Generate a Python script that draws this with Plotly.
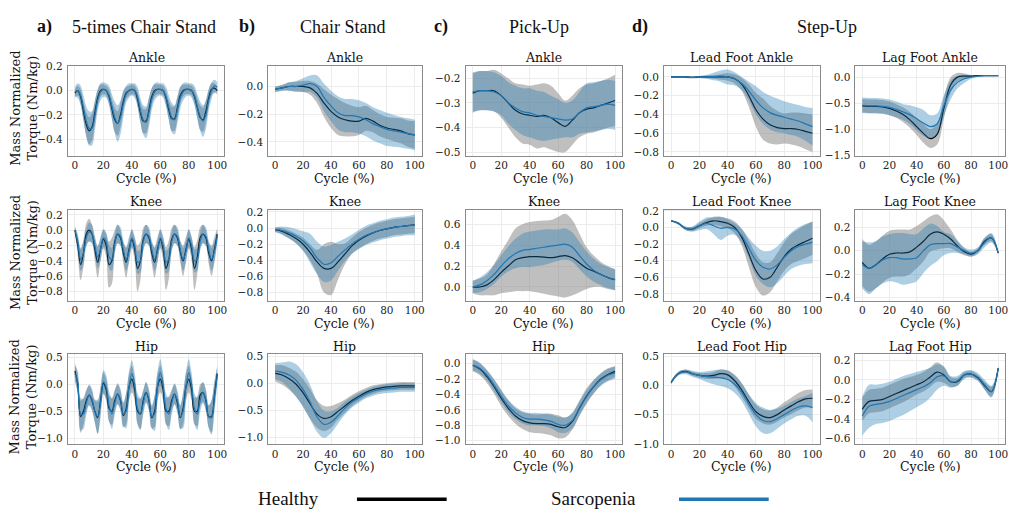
import plotly.graph_objects as go

W, H = 1017, 516

X2 = list(range(0, 101, 2))
X5 = list(range(0, 101, 5))
X_TICKS = [0, 20, 40, 60, 80, 100]

# ---------------- a) 5-times Chair Stand ----------------
a_ankle_h_mean = [-0.02,0.0,-0.05,-0.17,-0.28,-0.33,-0.30,-0.18,-0.06,0.0, 0.01,0.0,-0.05,-0.15,-0.24,-0.27,-0.20,-0.09,-0.02,0.0,
                  0.01,0.0,-0.07,-0.18,-0.25,-0.25,-0.16,-0.05,0.0,0.01, 0.01,0.0,-0.06,-0.16,-0.23,-0.23,-0.14,-0.04,0.0,0.01,
                  0.01,0.0,-0.05,-0.14,-0.22,-0.24,-0.17,-0.06,0.01,0.02, 0.0]
a_ankle_h_sd = [0.03,0.04,0.06,0.08,0.1,0.11,0.11,0.1,0.07,0.05, 0.04,0.04,0.06,0.08,0.1,0.1,0.1,0.08,0.05,0.04,
                0.04,0.04,0.06,0.08,0.1,0.1,0.1,0.07,0.05,0.04, 0.04,0.04,0.06,0.08,0.1,0.1,0.09,0.07,0.05,0.04,
                0.04,0.04,0.06,0.08,0.1,0.1,0.09,0.07,0.05,0.04, 0.03]
a_ankle_s_mean = [-0.01,0.0,-0.04,-0.14,-0.25,-0.31,-0.31,-0.21,-0.08,-0.01, 0.01,0.0,-0.04,-0.13,-0.22,-0.27,-0.22,-0.11,-0.03,0.0,
                  0.01,0.0,-0.05,-0.16,-0.24,-0.26,-0.18,-0.07,-0.01,0.01, 0.01,0.0,-0.05,-0.14,-0.22,-0.24,-0.16,-0.06,-0.01,0.01,
                  0.01,0.0,-0.04,-0.13,-0.21,-0.25,-0.20,-0.08,0.0,0.04, 0.03]
a_ankle_s_sd = [0.04,0.06,0.08,0.1,0.12,0.14,0.14,0.12,0.09,0.07, 0.06,0.06,0.08,0.1,0.13,0.15,0.14,0.11,0.07,0.06,
                0.05,0.06,0.08,0.1,0.12,0.13,0.12,0.09,0.07,0.06, 0.05,0.06,0.08,0.1,0.12,0.12,0.11,0.09,0.07,0.06,
                0.05,0.06,0.08,0.1,0.12,0.13,0.12,0.09,0.07,0.05, 0.04]

a_knee_h_mean = [0.0,-0.2,-0.45,-0.3,-0.05,0.0,-0.05,-0.25,-0.42,-0.25, -0.12,-0.2,-0.45,-0.4,-0.15,-0.05,-0.1,-0.3,-0.42,-0.25,
                 -0.12,-0.25,-0.5,-0.4,-0.12,-0.05,-0.1,-0.3,-0.42,-0.25, -0.12,-0.25,-0.5,-0.38,-0.12,-0.05,-0.1,-0.28,-0.4,-0.25,
                 -0.12,-0.25,-0.5,-0.35,-0.1,-0.05,-0.1,-0.3,-0.4,-0.25, -0.05]
a_knee_h_sd = [0.05,0.12,0.2,0.18,0.14,0.15,0.12,0.15,0.2,0.16, 0.12,0.15,0.3,0.3,0.15,0.12,0.1,0.14,0.2,0.16,
               0.12,0.15,0.3,0.25,0.15,0.12,0.1,0.14,0.2,0.16, 0.12,0.15,0.28,0.25,0.15,0.12,0.1,0.14,0.2,0.16,
               0.12,0.15,0.28,0.22,0.14,0.12,0.1,0.14,0.2,0.16, 0.08]
a_knee_s_mean = [0.0,-0.15,-0.38,-0.3,-0.1,-0.02,-0.05,-0.2,-0.35,-0.25, -0.1,-0.15,-0.35,-0.38,-0.18,-0.05,-0.08,-0.25,-0.38,-0.28,
                 -0.1,-0.2,-0.42,-0.4,-0.15,-0.05,-0.08,-0.25,-0.38,-0.28, -0.1,-0.2,-0.42,-0.38,-0.15,-0.05,-0.08,-0.25,-0.38,-0.28,
                 -0.1,-0.2,-0.4,-0.38,-0.15,-0.05,-0.08,-0.25,-0.38,-0.28, -0.08]
a_knee_s_sd = [0.05,0.1,0.15,0.15,0.12,0.12,0.12,0.12,0.15,0.14, 0.12,0.12,0.15,0.15,0.12,0.12,0.12,0.12,0.15,0.14,
               0.12,0.12,0.15,0.15,0.12,0.12,0.12,0.12,0.15,0.14, 0.12,0.12,0.15,0.15,0.12,0.12,0.12,0.12,0.15,0.14,
               0.12,0.12,0.15,0.15,0.12,0.12,0.12,0.12,0.15,0.14, 0.08]

a_hip_h_mean = [0.25,0.0,-0.6,-0.5,-0.3,-0.2,-0.3,-0.5,-0.62,-0.3, 0.02,-0.1,-0.45,-0.5,-0.3,-0.18,-0.3,-0.58,-0.45,-0.05,
                0.1,-0.1,-0.5,-0.55,-0.3,-0.15,-0.3,-0.62,-0.5,-0.05, 0.1,-0.1,-0.5,-0.5,-0.3,-0.18,-0.35,-0.62,-0.45,-0.05,
                0.1,-0.1,-0.5,-0.5,-0.2,-0.15,-0.3,-0.6,-0.6,-0.2, 0.2]
a_hip_h_sd = [0.15,0.2,0.3,0.25,0.2,0.18,0.18,0.2,0.3,0.25, 0.2,0.2,0.25,0.25,0.2,0.18,0.18,0.22,0.3,0.25,
              0.25,0.2,0.25,0.28,0.2,0.18,0.18,0.2,0.3,0.25, 0.25,0.2,0.25,0.28,0.2,0.18,0.18,0.22,0.3,0.25,
              0.25,0.2,0.25,0.28,0.2,0.18,0.18,0.2,0.3,0.25, 0.15]
a_hip_s_mean = [0.2,0.05,-0.55,-0.55,-0.35,-0.2,-0.28,-0.5,-0.6,-0.35, 0.05,-0.05,-0.4,-0.55,-0.35,-0.18,-0.28,-0.55,-0.5,-0.05,
                0.2,0.0,-0.45,-0.55,-0.35,-0.15,-0.28,-0.6,-0.55,-0.05, 0.22,0.0,-0.45,-0.55,-0.35,-0.18,-0.3,-0.6,-0.5,-0.05,
                0.22,0.0,-0.45,-0.55,-0.3,-0.15,-0.28,-0.6,-0.62,-0.25, 0.15]
a_hip_s_sd = [0.15,0.2,0.3,0.28,0.22,0.2,0.2,0.22,0.32,0.28, 0.22,0.22,0.28,0.28,0.22,0.2,0.2,0.22,0.32,0.28,
              0.25,0.22,0.28,0.3,0.22,0.2,0.2,0.22,0.32,0.28, 0.25,0.22,0.28,0.3,0.22,0.2,0.2,0.22,0.32,0.28,
              0.25,0.22,0.28,0.3,0.22,0.2,0.2,0.22,0.32,0.28, 0.15]

# ---------------- b) Chair Stand ----------------
b_ankle_h_mean = [-0.02,-0.01,0.0,0.0,0.0,-0.01,-0.05,-0.12,-0.18,-0.22,-0.24,-0.25,-0.25,-0.23,-0.25,-0.28,-0.3,-0.31,-0.32,-0.34,-0.35]
b_ankle_h_sd = [0.02,0.02,0.03,0.035,0.04,0.05,0.07,0.1,0.12,0.13,0.12,0.11,0.1,0.09,0.08,0.08,0.08,0.085,0.09,0.095,0.1]
b_ankle_s_mean = [-0.02,-0.01,0.0,0.0,0.01,0.02,0.0,-0.08,-0.14,-0.19,-0.21,-0.21,-0.22,-0.24,-0.27,-0.29,-0.31,-0.32,-0.33,-0.34,-0.35]
b_ankle_s_sd = [0.02,0.02,0.03,0.04,0.05,0.06,0.08,0.1,0.11,0.12,0.12,0.12,0.12,0.12,0.12,0.12,0.12,0.115,0.11,0.11,0.11]

b_knee_h_mean = [-0.02,-0.04,-0.08,-0.13,-0.2,-0.3,-0.42,-0.5,-0.5,-0.42,-0.32,-0.22,-0.15,-0.1,-0.06,-0.03,-0.01,0.01,0.02,0.03,0.04]
b_knee_h_sd = [0.03,0.04,0.05,0.06,0.08,0.1,0.15,0.3,0.33,0.22,0.13,0.1,0.1,0.1,0.1,0.1,0.1,0.1,0.1,0.1,0.1]
b_knee_s_mean = [-0.02,-0.03,-0.06,-0.1,-0.16,-0.25,-0.37,-0.45,-0.43,-0.35,-0.27,-0.2,-0.14,-0.09,-0.06,-0.03,-0.01,0.01,0.02,0.03,0.04]
b_knee_s_sd = [0.03,0.05,0.07,0.09,0.12,0.18,0.2,0.22,0.22,0.18,0.14,0.12,0.12,0.12,0.12,0.12,0.12,0.12,0.12,0.12,0.13]

b_hip_h_mean = [0.18,0.15,0.08,-0.02,-0.18,-0.38,-0.57,-0.65,-0.62,-0.52,-0.42,-0.32,-0.24,-0.17,-0.12,-0.09,-0.07,-0.06,-0.05,-0.05,-0.05]
b_hip_h_sd = [0.15,0.18,0.2,0.23,0.25,0.27,0.25,0.23,0.2,0.15,0.12,0.1,0.09,0.08,0.08,0.07,0.07,0.07,0.07,0.07,0.07]
b_hip_s_mean = [0.22,0.2,0.15,0.05,-0.12,-0.35,-0.62,-0.76,-0.72,-0.6,-0.46,-0.35,-0.27,-0.2,-0.15,-0.12,-0.1,-0.09,-0.08,-0.08,-0.08]
b_hip_s_sd = [0.15,0.18,0.25,0.3,0.32,0.32,0.28,0.25,0.2,0.15,0.12,0.1,0.09,0.08,0.08,0.08,0.08,0.08,0.08,0.08,0.08]

# ---------------- c) Pick-Up ----------------
c_ankle_h_mean = [-0.26,-0.25,-0.25,-0.25,-0.27,-0.3,-0.33,-0.345,-0.35,-0.355,-0.35,-0.36,-0.38,-0.395,-0.37,-0.34,-0.325,-0.32,-0.31,-0.3,-0.29]
c_ankle_h_sd = [0.08,0.08,0.08,0.085,0.09,0.1,0.11,0.12,0.12,0.13,0.13,0.13,0.12,0.105,0.1,0.1,0.1,0.1,0.1,0.1,0.105]
c_ankle_s_mean = [-0.255,-0.25,-0.25,-0.255,-0.27,-0.3,-0.32,-0.335,-0.34,-0.35,-0.355,-0.36,-0.365,-0.37,-0.365,-0.34,-0.32,-0.315,-0.31,-0.305,-0.31]
c_ankle_s_sd = [0.08,0.08,0.08,0.08,0.08,0.085,0.09,0.095,0.1,0.1,0.1,0.09,0.08,0.07,0.075,0.085,0.1,0.1,0.1,0.1,0.1]

c_knee_h_mean = [0.0,0.0,0.02,0.07,0.14,0.2,0.26,0.28,0.29,0.29,0.285,0.28,0.29,0.3,0.28,0.23,0.18,0.15,0.12,0.09,0.07]
c_knee_h_sd = [0.06,0.08,0.1,0.15,0.2,0.25,0.3,0.32,0.33,0.34,0.35,0.36,0.38,0.4,0.36,0.28,0.2,0.15,0.12,0.11,0.1]
c_knee_s_mean = [0.0,0.02,0.06,0.12,0.2,0.27,0.32,0.35,0.36,0.37,0.38,0.39,0.4,0.41,0.38,0.3,0.22,0.16,0.12,0.09,0.07]
c_knee_s_sd = [0.06,0.07,0.08,0.09,0.1,0.12,0.14,0.16,0.17,0.17,0.17,0.16,0.15,0.15,0.14,0.13,0.12,0.11,0.1,0.1,0.1]

c_hip_h_mean = [-0.02,-0.07,-0.17,-0.3,-0.45,-0.58,-0.68,-0.74,-0.77,-0.78,-0.78,-0.79,-0.82,-0.83,-0.75,-0.58,-0.42,-0.3,-0.2,-0.14,-0.1]
c_hip_h_sd = [0.08,0.08,0.08,0.09,0.1,0.1,0.1,0.11,0.12,0.12,0.13,0.14,0.15,0.13,0.11,0.1,0.1,0.09,0.08,0.08,0.07]
c_hip_s_mean = [-0.02,-0.06,-0.15,-0.28,-0.42,-0.55,-0.64,-0.7,-0.72,-0.72,-0.73,-0.75,-0.79,-0.8,-0.74,-0.58,-0.43,-0.3,-0.21,-0.15,-0.12]
c_hip_s_sd = [0.07,0.07,0.07,0.08,0.08,0.08,0.08,0.08,0.08,0.08,0.08,0.09,0.1,0.1,0.1,0.09,0.08,0.08,0.08,0.08,0.08]

# ---------------- d) Step-Up ----------------
d_lead_ankle_h_mean = [0.0,0.0,0.0,-0.005,0.0,0.0,0.0,0.0,0.0,-0.02,-0.08,-0.2,-0.35,-0.45,-0.51,-0.54,-0.55,-0.55,-0.56,-0.58,-0.6]
d_lead_ankle_h_sd = [0.01,0.01,0.01,0.01,0.01,0.015,0.02,0.03,0.04,0.05,0.07,0.12,0.18,0.22,0.2,0.18,0.16,0.17,0.18,0.19,0.2]
d_lead_ankle_s_mean = [0.0,0.0,0.0,-0.005,0.0,0.0,0.005,0.01,0.0,-0.02,-0.07,-0.15,-0.25,-0.33,-0.38,-0.41,-0.43,-0.45,-0.47,-0.5,-0.53]
d_lead_ankle_s_sd = [0.01,0.01,0.01,0.01,0.01,0.02,0.04,0.06,0.08,0.07,0.07,0.1,0.15,0.17,0.18,0.18,0.17,0.17,0.17,0.18,0.2]

d_lag_ankle_h_mean = [-0.55,-0.56,-0.56,-0.57,-0.6,-0.65,-0.72,-0.82,-0.95,-1.08,-1.18,-1.1,-0.6,-0.15,0.0,0.02,0.02,0.03,0.03,0.03,0.03]
d_lag_ankle_h_sd = [0.13,0.13,0.13,0.13,0.13,0.13,0.14,0.15,0.16,0.18,0.18,0.2,0.2,0.15,0.08,0.05,0.02,0.01,0.01,0.01,0.01]
d_lag_ankle_s_mean = [-0.54,-0.55,-0.55,-0.56,-0.58,-0.62,-0.67,-0.72,-0.8,-0.88,-0.95,-0.9,-0.55,-0.25,-0.1,-0.03,0.0,0.02,0.03,0.03,0.03]
d_lag_ankle_s_sd = [0.15,0.15,0.15,0.15,0.15,0.15,0.15,0.18,0.22,0.25,0.22,0.2,0.2,0.18,0.12,0.08,0.03,0.01,0.01,0.01,0.01]

d_lead_knee_h_mean = [0.08,0.05,-0.01,-0.02,0.02,0.06,0.08,0.07,0.05,0.0,-0.12,-0.32,-0.52,-0.62,-0.6,-0.48,-0.35,-0.26,-0.21,-0.17,-0.13]
d_lead_knee_h_sd = [0.01,0.015,0.02,0.025,0.03,0.04,0.05,0.055,0.06,0.07,0.1,0.16,0.2,0.2,0.18,0.17,0.17,0.18,0.19,0.2,0.2]
d_lead_knee_s_mean = [0.08,0.05,-0.01,-0.02,0.02,0.05,0.02,-0.01,0.0,-0.02,-0.1,-0.25,-0.4,-0.48,-0.5,-0.45,-0.36,-0.28,-0.23,-0.2,-0.18]
d_lead_knee_s_sd = [0.01,0.015,0.02,0.03,0.05,0.07,0.1,0.14,0.1,0.07,0.08,0.12,0.18,0.2,0.22,0.22,0.22,0.22,0.23,0.24,0.25]

d_lag_knee_h_mean = [-0.1,-0.15,-0.12,-0.07,-0.03,-0.02,-0.02,-0.01,0.03,0.08,0.14,0.16,0.14,0.1,0.04,-0.01,-0.03,0.0,0.08,0.11,-0.02]
d_lag_knee_h_sd = [0.2,0.2,0.2,0.2,0.2,0.2,0.2,0.19,0.18,0.17,0.15,0.15,0.12,0.08,0.05,0.03,0.02,0.02,0.03,0.03,0.01]
d_lag_knee_s_mean = [-0.12,-0.15,-0.12,-0.08,-0.06,-0.06,-0.07,-0.07,-0.06,0.0,0.05,0.06,0.06,0.06,0.03,0.0,-0.02,0.0,0.07,0.11,-0.02]
d_lag_knee_s_sd = [0.2,0.22,0.2,0.2,0.2,0.21,0.22,0.21,0.2,0.19,0.18,0.15,0.1,0.08,0.05,0.03,0.03,0.03,0.04,0.04,0.01]

d_lead_hip_h_mean = [0.05,0.2,0.24,0.2,0.17,0.16,0.17,0.2,0.18,0.08,-0.08,-0.28,-0.45,-0.53,-0.55,-0.5,-0.42,-0.35,-0.28,-0.23,-0.22]
d_lead_hip_h_sd = [0.03,0.03,0.03,0.035,0.04,0.05,0.06,0.07,0.08,0.1,0.12,0.12,0.12,0.12,0.12,0.12,0.13,0.14,0.15,0.15,0.15]
d_lead_hip_s_mean = [0.05,0.2,0.23,0.2,0.17,0.15,0.14,0.13,0.1,0.02,-0.12,-0.32,-0.5,-0.6,-0.62,-0.57,-0.5,-0.43,-0.37,-0.35,-0.38]
d_lead_hip_s_sd = [0.03,0.03,0.04,0.05,0.06,0.09,0.12,0.14,0.15,0.15,0.15,0.17,0.2,0.22,0.2,0.17,0.15,0.15,0.15,0.17,0.25]

d_lag_hip_h_mean = [-0.3,-0.22,-0.21,-0.2,-0.17,-0.14,-0.11,-0.08,-0.05,-0.02,0.03,0.08,0.05,-0.02,-0.02,0.05,0.06,0.02,-0.06,-0.12,0.12]
d_lag_hip_h_sd = [0.12,0.12,0.12,0.12,0.12,0.12,0.12,0.11,0.1,0.1,0.1,0.1,0.08,0.05,0.04,0.03,0.03,0.03,0.04,0.05,0.02]
d_lag_hip_s_mean = [-0.37,-0.27,-0.25,-0.24,-0.22,-0.19,-0.16,-0.13,-0.1,-0.07,-0.03,0.03,0.04,-0.02,-0.01,0.05,0.06,0.03,-0.05,-0.12,0.12]
d_lag_hip_s_sd = [0.2,0.22,0.2,0.2,0.2,0.2,0.2,0.19,0.18,0.17,0.15,0.13,0.1,0.06,0.05,0.04,0.04,0.04,0.05,0.06,0.02]

column_headers = [("a)", "5-times Chair Stand"), ("b)", "Chair Stand"), ("c)", "Pick-Up"), ("d)", "Step-Up")]

# (col, row, title, x, h_mean, h_sd, s_mean, s_sd, y_range, y_ticks)
panels = [
    (0, 0, "Ankle", X2, a_ankle_h_mean, a_ankle_h_sd, a_ankle_s_mean, a_ankle_s_sd, [-0.535, 0.205], [-0.4, -0.2, 0.0, 0.2]),
    (0, 1, "Knee", X2, a_knee_h_mean, a_knee_h_sd, a_knee_s_mean, a_knee_s_sd, [-0.92, 0.27], [-0.8, -0.6, -0.4, -0.2, 0.0, 0.2]),
    (0, 2, "Hip", X2, a_hip_h_mean, a_hip_h_sd, a_hip_s_mean, a_hip_s_sd, [-1.12, 0.56], [-1.0, -0.5, 0.0, 0.5]),
    (1, 0, "Ankle", X5, b_ankle_h_mean, b_ankle_h_sd, b_ankle_s_mean, b_ankle_s_sd, [-0.5, 0.15], [-0.4, -0.2, 0.0]),
    (1, 1, "Knee", X5, b_knee_h_mean, b_knee_h_sd, b_knee_s_mean, b_knee_s_sd, [-0.9, 0.23], [-0.8, -0.6, -0.4, -0.2, 0.0, 0.2]),
    (1, 2, "Hip", X5, b_hip_h_mean, b_hip_h_sd, b_hip_s_mean, b_hip_s_sd, [-1.13, 0.53], [-1.0, -0.5, 0.0, 0.5]),
    (2, 0, "Ankle", X5, c_ankle_h_mean, c_ankle_h_sd, c_ankle_s_mean, c_ankle_s_sd, [-0.515, -0.148], [-0.5, -0.4, -0.3, -0.2]),
    (2, 1, "Knee", X5, c_knee_h_mean, c_knee_h_sd, c_knee_s_mean, c_knee_s_sd, [-0.13, 0.74], [0.0, 0.2, 0.4, 0.6]),
    (2, 2, "Hip", X5, c_hip_h_mean, c_hip_h_sd, c_hip_s_mean, c_hip_s_sd, [-1.05, 0.12], [-1.0, -0.8, -0.6, -0.4, -0.2, 0.0]),
    (3, 0, "Lead Foot Ankle", X5, d_lead_ankle_h_mean, d_lead_ankle_h_sd, d_lead_ankle_s_mean, d_lead_ankle_s_sd, [-0.84, 0.12], [-0.8, -0.6, -0.4, -0.2, 0.0]),
    (3, 1, "Lead Foot Knee", X5, d_lead_knee_h_mean, d_lead_knee_h_sd, d_lead_knee_s_mean, d_lead_knee_s_sd, [-0.88, 0.215], [-0.8, -0.6, -0.4, -0.2, 0.0, 0.2]),
    (3, 2, "Lead Foot Hip", X5, d_lead_hip_h_mean, d_lead_hip_h_sd, d_lead_hip_s_mean, d_lead_hip_s_sd, [-1.01, 0.53], [-1.0, -0.5, 0.0, 0.5]),
    (4, 0, "Lag Foot Ankle", X5, d_lag_ankle_h_mean, d_lag_ankle_h_sd, d_lag_ankle_s_mean, d_lag_ankle_s_sd, [-1.51, 0.22], [-1.5, -1.0, -0.5, 0.0]),
    (4, 1, "Lag Foot Knee", X5, d_lag_knee_h_mean, d_lag_knee_h_sd, d_lag_knee_s_mean, d_lag_knee_s_sd, [-0.425, 0.35], [-0.4, -0.2, 0.0, 0.2]),
    (4, 2, "Lag Foot Hip", X5, d_lag_hip_h_mean, d_lag_hip_h_sd, d_lag_hip_s_mean, d_lag_hip_s_sd, [-0.66, 0.26], [-0.6, -0.4, -0.2, 0.0, 0.2]),
]

# layout geometry in pixels
COL_PX = [(68, 225), (269, 423), (467, 624), (666, 822), (858, 1008)]
ROW_PX = [(61, 153), (208, 301), (356, 448)]

GRAY_FILL = "rgba(128,128,128,0.5)"
BLUE_FILL = "rgba(31,119,180,0.36)"
BLUE = "#1f77b4"
SERIF = "DejaVu Serif"
TIMES = "Liberation Serif"


def px(x):
    return x / W


def py(y):
    return 1 - y / H


fig = go.Figure()
layout = {}
annotations = []

for i, (col, row, title, x, hm, hs, sm, ss, yr, yt) in enumerate(panels):
    assert len(x) == len(hm) == len(hs) == len(sm) == len(ss), (title, len(x), len(hm), len(hs), len(sm), len(ss))
    n = i + 1
    xa = "x" if n == 1 else f"x{n}"
    ya = "y" if n == 1 else f"y{n}"
    common = dict(xaxis=xa, yaxis=ya, mode="lines", hoverinfo="skip", showlegend=False)
    h_lo = [m - s for m, s in zip(hm, hs)]
    h_hi = [m + s for m, s in zip(hm, hs)]
    s_lo = [m - s for m, s in zip(sm, ss)]
    s_hi = [m + s for m, s in zip(sm, ss)]
    fig.add_trace(go.Scatter(x=x, y=h_lo, line=dict(width=0, shape="spline"), **common))
    fig.add_trace(go.Scatter(x=x, y=h_hi, line=dict(width=0, shape="spline"), fill="tonexty", fillcolor=GRAY_FILL, **common))
    fig.add_trace(go.Scatter(x=x, y=hm, line=dict(color="black", width=1.2, shape="spline"), **common))
    fig.add_trace(go.Scatter(x=x, y=s_lo, line=dict(width=0, shape="spline"), **common))
    fig.add_trace(go.Scatter(x=x, y=s_hi, line=dict(width=0, shape="spline"), fill="tonexty", fillcolor=BLUE_FILL, **common))
    fig.add_trace(go.Scatter(x=x, y=sm, line=dict(color=BLUE, width=1.2, shape="spline"), **common))

    x0, x1 = COL_PX[col]
    y0, y1 = ROW_PX[row]
    axis_common = dict(showline=True, linecolor="#8a8a8a", linewidth=1, mirror=True,
                       showgrid=True, gridcolor="#ececec", gridwidth=0.8, zeroline=False,
                       ticks="", ticklen=0,
                       tickfont=dict(family=SERIF, size=10.5, color="#222"))
    layout["xaxis" if n == 1 else f"xaxis{n}"] = dict(domain=[px(x0), px(x1)], anchor=ya, range=[-5, 105],
                                                       tickvals=X_TICKS, ticklabelstandoff=0, **axis_common)
    layout["yaxis" if n == 1 else f"yaxis{n}"] = dict(domain=[py(y1), py(y0)], anchor=xa, range=yr,
                                                       tickvals=yt, tickformat=".1f", ticklabelstandoff=2,
                                                       **axis_common)
    # subplot title
    annotations.append(dict(text=title, x=px((x0 + x1) / 2), y=py(y0 - 8), xref="paper", yref="paper",
                            showarrow=False, xanchor="center", yanchor="middle",
                            font=dict(family=SERIF, size=12.5, color="#111")))
    # x-axis title
    annotations.append(dict(text="Cycle (%)", x=px((x0 + x1) / 2), y=py(y1 + 23), xref="paper", yref="paper",
                            showarrow=False, xanchor="center", yanchor="middle",
                            font=dict(family=SERIF, size=12.5, color="#111")))

# y-axis titles (first column)
for (y0, y1) in ROW_PX:
    annotations.append(dict(text="Mass Normalized<br>Torque (Nm/kg)", x=px(24), y=py((y0 + y1) / 2 - 3),
                            xref="paper", yref="paper", showarrow=False, textangle=-90,
                            xanchor="center", yanchor="middle",
                            font=dict(family=SERIF, size=13, color="#111")))

# column headers
header_pos = [(45, 144), (248, 344), (442, 541), (642, 829)]
for (lab, txt), (xl, xt) in zip(column_headers, header_pos):
    annotations.append(dict(text=f"<b>{lab}</b>", x=px(xl), y=py(21), xref="paper", yref="paper",
                            showarrow=False, xanchor="center", yanchor="middle",
                            font=dict(family=TIMES, size=18, color="#111")))
    annotations.append(dict(text=txt, x=px(xt), y=py(21), xref="paper", yref="paper",
                            showarrow=False, xanchor="center", yanchor="middle",
                            font=dict(family=TIMES, size=18, color="#111")))

# legend (text followed by line sample)
legend_items = [("Healthy", "black", 289, 358, 448), ("Sarcopenia", BLUE, 595, 681, 771)]
shapes = []
for name, color, tx, lx0, lx1 in legend_items:
    annotations.append(dict(text=name, x=px(tx), y=py(503), xref="paper", yref="paper",
                            showarrow=False, xanchor="center", yanchor="middle",
                            font=dict(family=TIMES, size=19, color="#111")))
    shapes.append(dict(type="line", xref="paper", yref="paper", x0=px(lx0), x1=px(lx1),
                       y0=py(504), y1=py(504), line=dict(color=color, width=3.5)))

fig.update_layout(width=W, height=H, margin=dict(l=0, r=0, t=0, b=0),
                  paper_bgcolor="white", plot_bgcolor="white",
                  annotations=annotations, shapes=shapes, **layout)

fig.write_html("out.html", config={"displayModeBar": False},
               post_script="document.body.style.margin='0';document.body.style.overflow='hidden';")
